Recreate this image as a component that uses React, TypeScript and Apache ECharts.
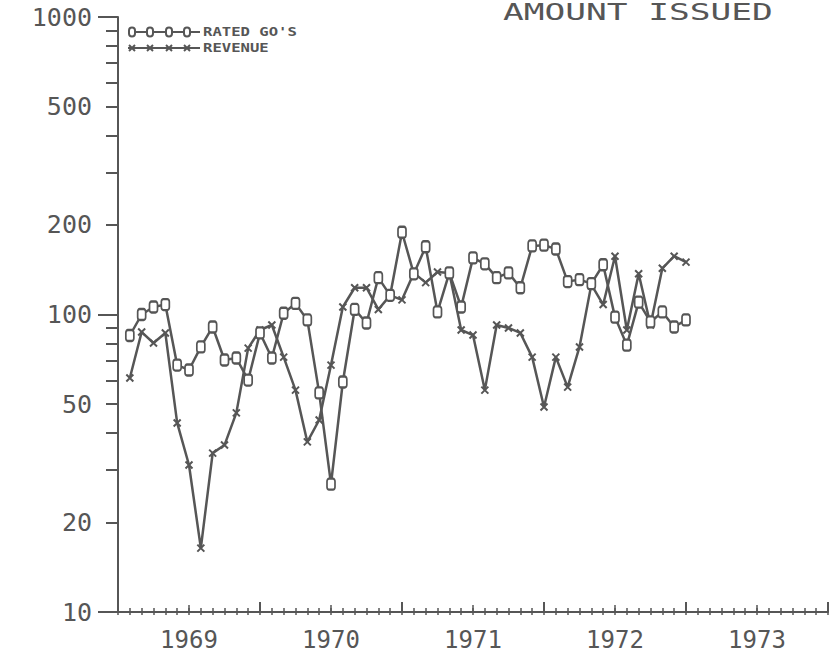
import React, { useEffect, useRef } from "react";
import * as echarts from "echarts";

// month index: 1 = Jan 1969 ... 48 = Dec 1972 (plotted at month end)
const months = [
  1, 2, 3, 4, 5, 6, 7, 8, 9, 10, 11, 12,
  13, 14, 15, 16, 17, 18, 19, 20, 21, 22, 23, 24,
  25, 26, 27, 28, 29, 30, 31, 32, 33, 34, 35, 36,
  37, 38, 39, 40, 41, 42, 43, 44, 45, 46, 47, 48,
];

const ratedGOs = [
  85, 100, 106, 108, 67.6, 65.1, 77.8, 90.8, 70.3, 71.4, 60.2, 86.7,
  71.4, 101, 109, 95.9, 54.5, 26.9, 59.3, 104, 93.6, 133, 116, 189,
  137, 169, 102, 138, 106, 155, 148, 133, 138, 123, 170, 171,
  166, 129, 131, 127, 147, 98, 78.9, 110, 94.4, 102, 90.8, 95.9,
];

const revenue = [
  61.2, 87.3, 80.2, 86.7, 43.2, 31.2, 16.4, 34.2, 36.4, 46.7, 77.1, 88.7,
  92.2, 71.9, 55.7, 37.3, 44.2, 67.6, 106, 123, 123, 104, 116, 112,
  138, 128, 139, 138, 88.7, 85.3, 55.7, 92.2, 90.1, 86.7, 71.9, 48.9,
  71.9, 57.0, 77.8, 126, 108, 157, 88.7, 137, 92.2, 143, 157, 150,
];

const yearLabels = ["1969", "1970", "1971", "1972", "1973"];
const yTickValues = [10, 20, 30, 40, 50, 60, 70, 80, 90, 100, 200, 300, 400, 500, 600, 700, 800, 900, 1000];
const yMajorTicks = [10, 100, 1000];
const yLabelValues = [10, 20, 50, 100, 200, 500, 1000];

const INK = "#565656";
const MONO = '"DejaVu Sans Mono", "Liberation Mono", monospace';

export default function App() {
  const ref = useRef<HTMLDivElement>(null);

  useEffect(() => {
    if (!ref.current) return;
    const chart = echarts.init(ref.current, null, { renderer: "svg" });

    const baseX = {
      type: "value",
      gridIndex: 0,
      min: 0,
      max: 60,
      position: "bottom",
      offset: 0,
      splitLine: { show: false },
      axisLine: { show: false },
      axisLabel: { show: false },
    };

    const baseY = {
      type: "log",
      logBase: 10,
      gridIndex: 0,
      min: 10,
      max: 1000,
      position: "left",
      offset: 0,
      splitLine: { show: false },
      axisLine: { show: false },
      axisLabel: { show: false },
    };

    const ratedData = months.map((m, i) => [m, ratedGOs[i]]);
    const revenueData = months.map((m, i) => [m, revenue[i]]);

    const legendY1 = 32;
    const legendY2 = 48;
    const legendMarkX = [132, 150, 169, 187];

    const graphics: any[] = [
      {
        type: "text",
        x: 503,
        y: 12,
        scaleX: 1.5,
        style: {
          text: "AMOUNT ISSUED",
          font: `23px ${MONO}`,
          fill: INK,
          verticalAlign: "middle",
        },
      },
      {
        type: "line",
        shape: { x1: 128, y1: legendY1, x2: 200, y2: legendY1 },
        style: { stroke: INK, lineWidth: 2 },
      },
      {
        type: "line",
        shape: { x1: 128, y1: legendY2, x2: 200, y2: legendY2 },
        style: { stroke: INK, lineWidth: 2 },
      },
      ...legendMarkX.map((cx) => ({
        type: "rect",
        shape: { x: cx - 3, y: legendY1 - 4.5, width: 6, height: 9, r: 3 },
        style: { fill: "#fff", stroke: INK, lineWidth: 2 },
      })),
      ...legendMarkX.flatMap((cx) => [
        {
          type: "line",
          shape: { x1: cx - 3, y1: legendY2 - 3, x2: cx + 3, y2: legendY2 + 3 },
          style: { stroke: INK, lineWidth: 2 },
        },
        {
          type: "line",
          shape: { x1: cx - 3, y1: legendY2 + 3, x2: cx + 3, y2: legendY2 - 3 },
          style: { stroke: INK, lineWidth: 2 },
        },
      ]),
      {
        type: "text",
        x: 203,
        y: legendY1,
        scaleX: 1.3,
        style: {
          text: "RATED GO'S",
          font: `bold 12px ${MONO}`,
          fill: INK,
          verticalAlign: "middle",
        },
      },
      {
        type: "text",
        x: 203,
        y: legendY2,
        scaleX: 1.3,
        style: {
          text: "REVENUE",
          font: `bold 12px ${MONO}`,
          fill: INK,
          verticalAlign: "middle",
        },
      },
    ];

    chart.setOption({
      animation: false,
      backgroundColor: "#fff",
      grid: {
        left: 118,
        right: 3,
        top: 17,
        bottom: 45,
        containLabel: false,
        outerBoundsMode: "none",
      },
      xAxis: [
        {
          ...baseX,
          interval: 1,
          axisLine: { show: true, lineStyle: { color: INK, width: 2 } },
          axisTick: { show: true, inside: true, length: 4, lineStyle: { color: INK, width: 1.5 } },
        },
        {
          ...baseX,
          interval: 1,
          axisTick: { show: true, inside: false, length: 3, lineStyle: { color: INK, width: 1.5 } },
        },
        {
          ...baseX,
          interval: 6,
          axisTick: { show: true, inside: true, length: 7, lineStyle: { color: INK, width: 1.5 } },
          axisLabel: {
            show: true,
            margin: 16,
            color: INK,
            fontSize: 24,
            fontFamily: MONO,
            formatter: (v: number) => (v % 12 === 6 ? yearLabels[(v - 6) / 12] : ""),
          },
        },
        {
          ...baseX,
          interval: 12,
          axisTick: { show: true, inside: true, length: 10, lineStyle: { color: INK, width: 2 } },
        },
      ],
      yAxis: [
        {
          ...baseY,
          axisLine: { show: true, lineStyle: { color: INK, width: 2 } },
          axisTick: {
            show: true,
            inside: false,
            length: 12,
            customValues: yTickValues,
            lineStyle: { color: INK, width: 2 },
          },
          axisLabel: {
            show: true,
            margin: 26,
            color: INK,
            fontSize: 25,
            fontFamily: MONO,
            customValues: yLabelValues,
            formatter: (v: number) => String(Math.round(v)),
          },
        },
        {
          ...baseY,
          axisTick: {
            show: true,
            inside: false,
            length: 20,
            customValues: yMajorTicks,
            lineStyle: { color: INK, width: 2 },
          },
        },
      ],
      series: [
        {
          name: "RATED GO'S",
          type: "line",
          xAxisIndex: 0,
          yAxisIndex: 0,
          data: ratedData,
          symbol: "roundRect",
          symbolSize: [8, 11],
          showAllSymbol: true,
          lineStyle: { color: INK, width: 2.5 },
          itemStyle: { color: "#fff", borderColor: INK, borderWidth: 2 },
          z: 3,
        },
        {
          name: "REVENUE",
          type: "line",
          xAxisIndex: 0,
          yAxisIndex: 0,
          data: revenueData,
          symbol: "path://M0,0L10,10M0,10L10,0",
          symbolSize: 7,
          showAllSymbol: true,
          lineStyle: { color: INK, width: 2.5 },
          itemStyle: { color: INK, borderColor: INK, borderWidth: 2 },
          z: 2,
        },
      ],
      graphic: graphics,
    });

    return () => chart.dispose();
  }, []);

  return (
    <div
      ref={ref}
      style={{ position: "fixed", left: 0, top: 0, width: 831, height: 657, background: "#fff" }}
    />
  );
}
